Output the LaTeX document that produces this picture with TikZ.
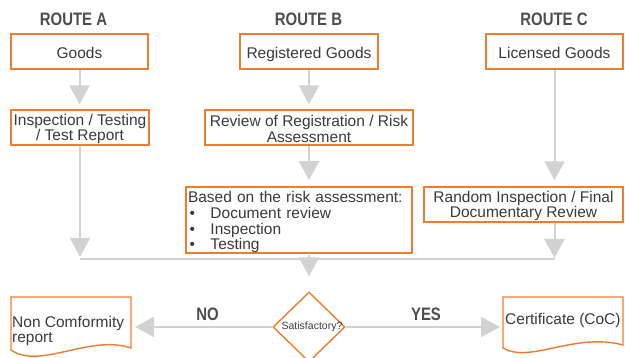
\documentclass[tikz,border=0pt]{standalone}
\usepackage{fontspec}
\setmainfont{Liberation Sans}
\usepackage{graphicx}
\usetikzlibrary{arrows.meta,shapes.geometric}

\definecolor{boxorange}{HTML}{F07C2E}
\definecolor{flowgray}{HTML}{D1D2D4}
\definecolor{txtgray}{HTML}{3A3A3A}
\definecolor{headgray}{HTML}{4D4D4D}
\newcommand{\headtxt}[1]{\scalebox{0.83}[1]{#1}}
\newcommand{\topstrut}[1]{\rule{0pt}{#1}}

\begin{document}
\begin{tikzpicture}[x=1pt, y=1pt,
    txt/.style={text=txtgray, font=\fontsize{15.5pt}{15.7pt}\selectfont},
    stagebox/.style={txt, draw=boxorange, line width=1.4pt, align=center, inner sep=1pt, minimum height=35pt},
    onebox/.style={stagebox, text height=15pt, text depth=0pt},
    heading/.style={text=headgray, font=\fontsize{18pt}{18pt}\selectfont\bfseries, anchor=base},
    flow/.style={draw=flowgray, line width=2pt, -{Triangle[width=20pt,length=19pt]}},
    flowline/.style={draw=flowgray, line width=2pt},
    doc/.style={draw=boxorange, line width=1.4pt}]
    \useasboundingbox (0,0) rectangle (625,358);

    % Route headings
    \node[heading] (hA) at (73.5,332) {\headtxt{ROUTE A}};
    \node[heading] (hB) at (308.5,332) {\headtxt{ROUTE B}};
    \node[heading] (hC) at (554,332) {\headtxt{ROUTE C}};

    % Route A
    \node[onebox, minimum width=137pt] (goods) at (79.5,306.5) {Goods};
    \node[stagebox, minimum width=138pt] (insp) at (80,230.5) {\topstrut{14pt}Inspection / Testing\\/ Test Report};

    % Route B
    \node[onebox, minimum width=138pt] (reg) at (309,306.5) {Registered Goods};
    \node[stagebox, minimum width=208pt] (review) at (309,230.5) {\topstrut{14pt}Review of Registration / Risk\\Assessment};
    \node[stagebox, minimum width=226pt, minimum height=66pt, text width=222pt, align=left,
        inner xsep=2pt, inner ysep=0pt] (based) at (299,138)
        {\topstrut{16pt}Based on the risk assessment:\\
         \makebox[22.5pt][l]{\hspace{1.5pt}\textbullet}Document review\\
         \makebox[22.5pt][l]{\hspace{1.5pt}\textbullet}Inspection\\
         \makebox[22.5pt][l]{\hspace{1.5pt}\textbullet}Testing};

    % Route C
    \node[onebox, minimum width=137pt] (lic) at (554.5,306.5) {Licensed Goods};
    \node[stagebox, minimum width=199pt] (random) at (523.5,153.5) {\topstrut{14pt}Random Inspection / Final\\Documentary Review};

    % Decision
    \node[diamond, draw=boxorange, line width=1.4pt, minimum width=72pt, minimum height=70pt,
        inner sep=0pt] (dec) at (309,31) {};
    \node[text=txtgray, font=\fontsize{10.5pt}{10.5pt}\selectfont] (dectxt) at (312,31) {Satisfactory?};

    % Outcomes
    \draw[doc] (11,8) -- (11,61) -- (131,61) -- (131,10) .. controls (90,24) and (40,-12) .. cycle;
    \node[txt, anchor=west, align=left, inner sep=0pt] (nctxt) at (12,27) {Non Comformity\\report};
    \coordinate (ncR) at (131,31);

    \draw[doc] (503,10) -- (503,61) -- (623,61) -- (623,13) .. controls (575,26) and (530,-6) .. cycle;
    \node[txt, anchor=west, inner sep=0pt] (certtxt) at (505,38) {Certificate (CoC)};
    \coordinate (certL) at (503,31);

    % Merge line
    \coordinate (mA) at (80,99);
    \coordinate (mC) at (554.5,99);
    \draw[flowline] (mA) -- (mC);

    % Arrows
    \draw[flow, shorten >=5pt] (goods.south) -- (goods.south |- insp.north);
    \draw[flow, shorten >=2pt] (insp.south) -- (mA);
    \draw[flow, shorten >=5pt] (reg) -- (review);
    \draw[flow, shorten >=6pt] (review.south) -- (review.south |- based.north);
    \draw[flow, shorten <=1pt, shorten >=15pt] (dec.north |- based.south) -- (dec.north);
    \draw[flow, shorten >=6pt] (lic.south) -- (lic.south |- random.north);
    \draw[flow, shorten >=1pt] (lic.south |- random.south) -- (mC);

    \draw[flow, shorten >=4pt] (dec.west) -- (ncR);
    \draw[flow, shorten >=3pt] (dec.east) -- (certL);
    \node[heading] (no) at (207.5,37.3) {\headtxt{NO}};
    \node[heading] (yes) at (426,37.3) {\headtxt{YES}};
\end{tikzpicture}
\end{document}
